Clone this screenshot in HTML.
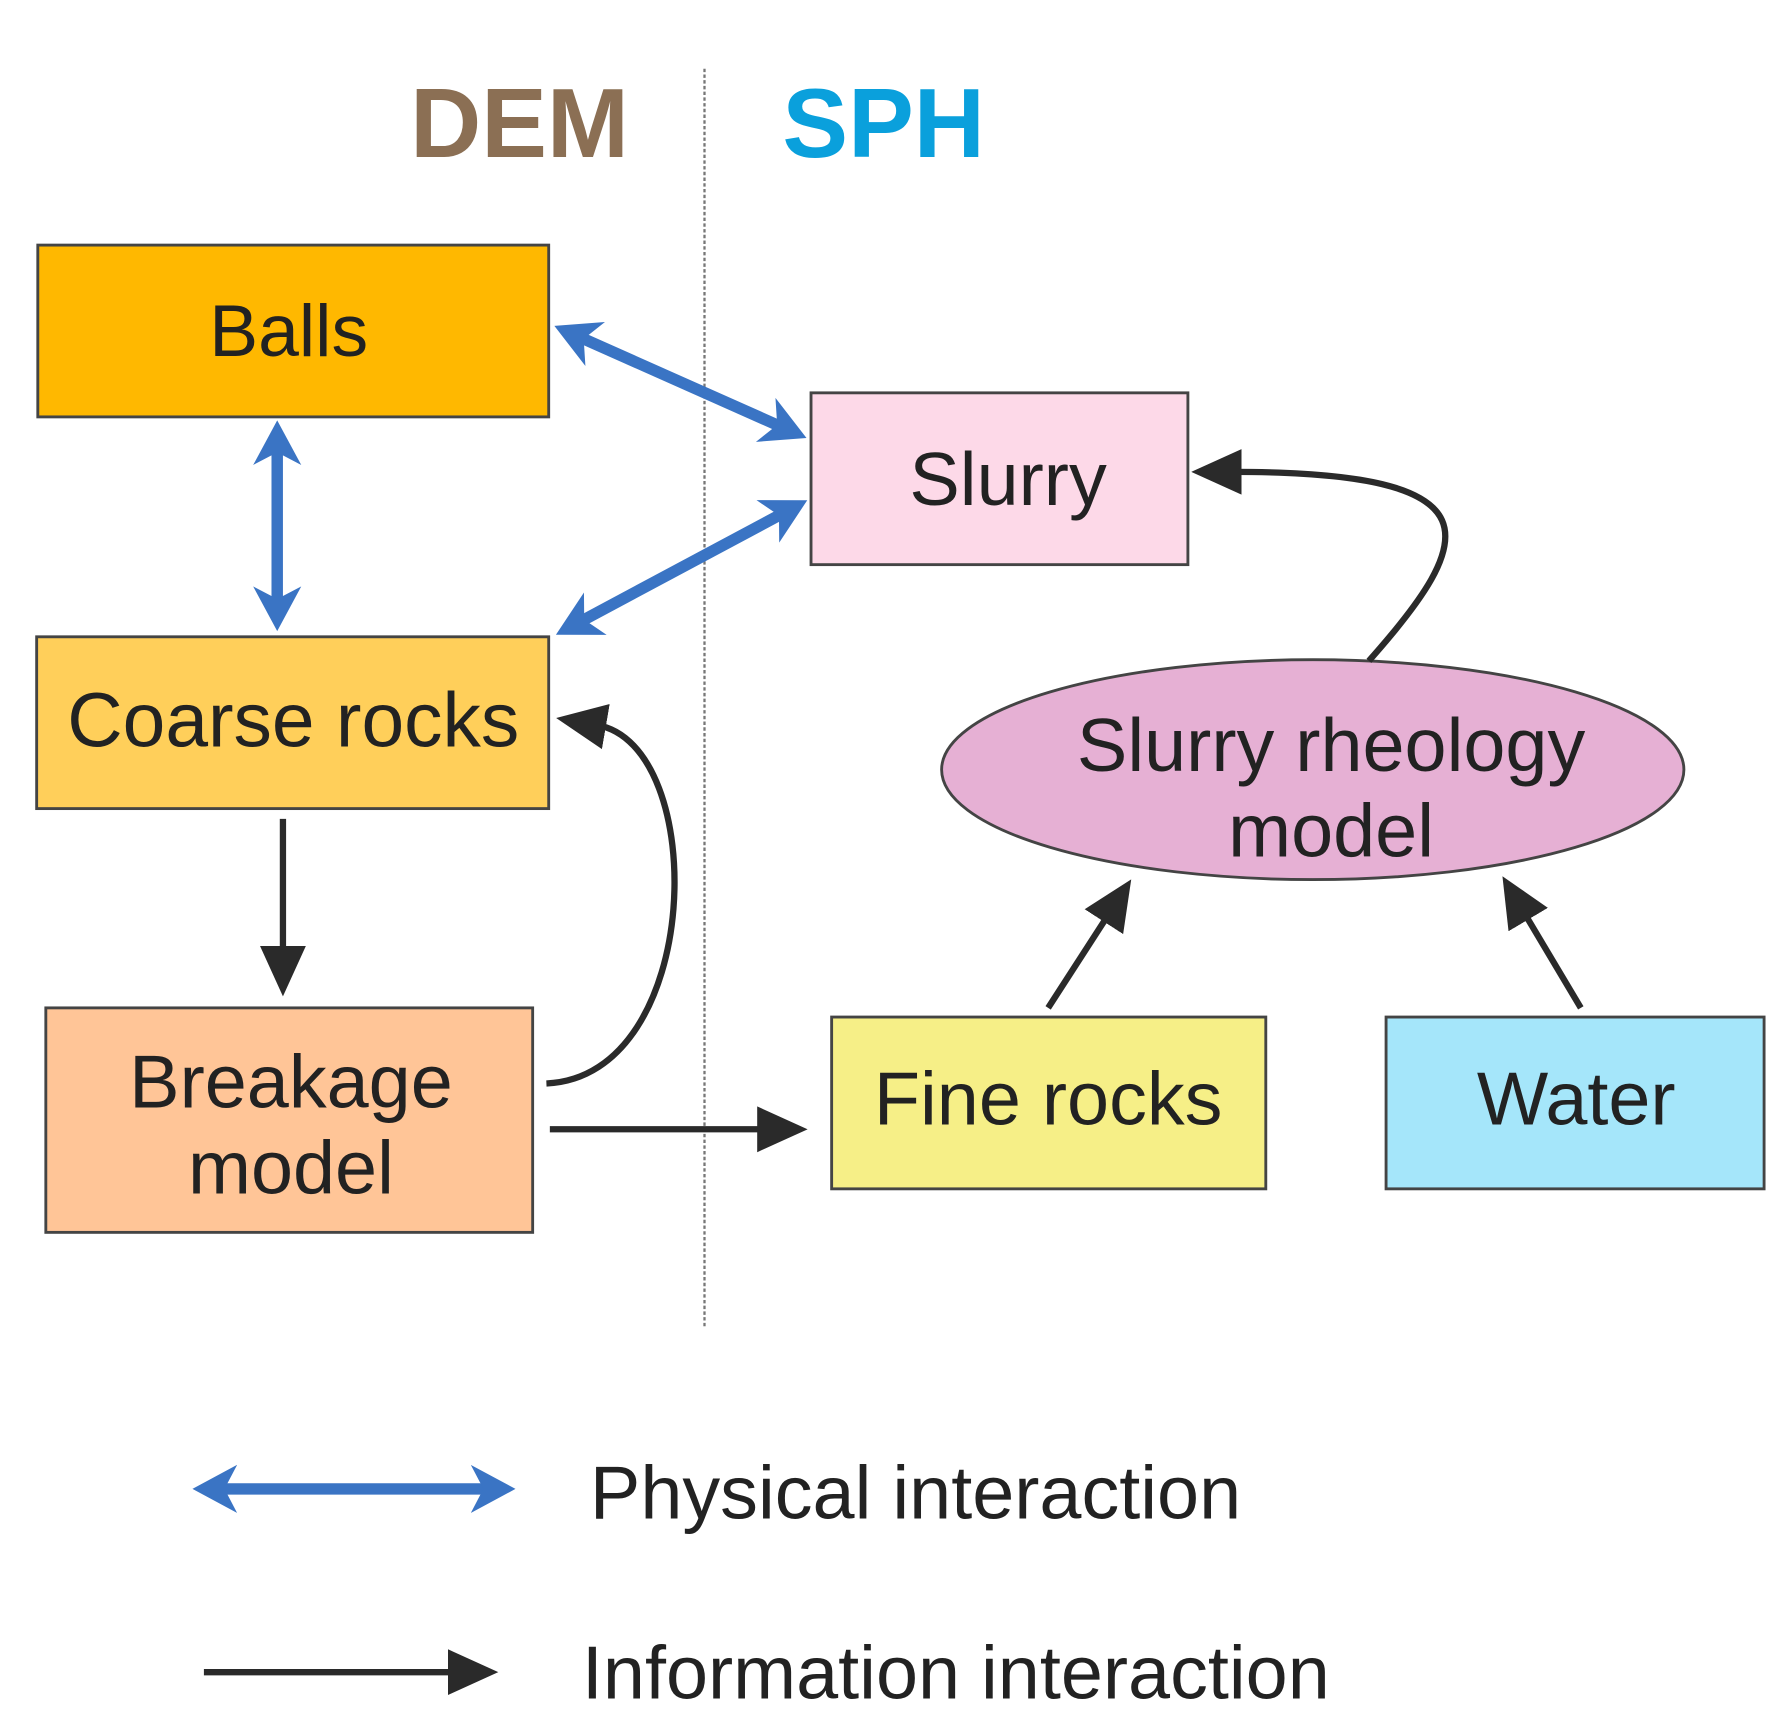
<!DOCTYPE html>
<html><head><meta charset="utf-8"><style>
html,body{margin:0;padding:0;background:#fff;}
svg{display:block;}
text{font-family:"Liberation Sans",Arial,sans-serif;}
</style></head><body>
<svg width="1787" height="1726" viewBox="0 0 1560 1507" preserveAspectRatio="none" xmlns="http://www.w3.org/2000/svg">
<defs>
<marker id="bh" markerWidth="40" markerHeight="46" refX="28" refY="23" orient="auto-start-reverse" markerUnits="userSpaceOnUse">
<path d="M0,2 L39,23 L0,44 L11,23 Z" fill="#3A74C4"/>
</marker>
<marker id="kh" markerWidth="44" markerHeight="44" refX="8" refY="22" orient="auto" markerUnits="userSpaceOnUse">
<path d="M0,2 L44,22 L0,42 Z" fill="#2a2a2a"/>
</marker>
</defs>
<rect width="1560" height="1507" fill="#fff"/>
<text x="358" y="137" font-size="86" font-weight="bold" fill="#8B6F54">DEM</text>
<text x="683" y="137" font-size="86" font-weight="bold" fill="#0AA0DC">SPH</text>
<line x1="615" y1="60" x2="615" y2="1160" stroke="#777" stroke-width="2" stroke-dasharray="3,2"/>

<rect x="33" y="214" width="446" height="150" fill="#FFB800" stroke="#444" stroke-width="2.5"/>
<text x="252" y="311" font-size="64" text-anchor="middle" fill="#222">Balls</text>
<rect x="708" y="343" width="329" height="150" fill="#FDD9E8" stroke="#444" stroke-width="2.5"/>
<text x="880" y="441" font-size="66" text-anchor="middle" fill="#222">Slurry</text>
<rect x="32" y="556" width="447" height="150" fill="#FFCF5A" stroke="#444" stroke-width="2.5"/>
<text x="256" y="652" font-size="67" text-anchor="middle" fill="#222">Coarse rocks</text>
<rect x="40" y="880" width="425" height="196" fill="#FFC597" stroke="#444" stroke-width="2.5"/>
<text x="254" y="967" font-size="66" text-anchor="middle" fill="#222">Breakage</text>
<text x="254" y="1042" font-size="66" text-anchor="middle" fill="#222">model</text>
<rect x="726" y="888" width="379" height="150" fill="#F6EF87" stroke="#444" stroke-width="2.5"/>
<text x="915" y="982" font-size="66" text-anchor="middle" fill="#222">Fine rocks</text>
<rect x="1210" y="888" width="330" height="150" fill="#A5E6FA" stroke="#444" stroke-width="2.5"/>
<text x="1376" y="982" font-size="66" text-anchor="middle" fill="#222">Water</text>
<ellipse cx="1146" cy="672" rx="324" ry="96" fill="#E6B0D4" stroke="#444" stroke-width="2.5"/>
<text x="1162" y="673" font-size="66" text-anchor="middle" fill="#222">Slurry rheology</text>
<text x="1162" y="748" font-size="66" text-anchor="middle" fill="#222">model</text>

<g stroke="#3A74C4" stroke-width="10" fill="none">
<line x1="494" y1="289" x2="694" y2="378" marker-start="url(#bh)" marker-end="url(#bh)"/>
<line x1="495" y1="549" x2="695" y2="442" marker-start="url(#bh)" marker-end="url(#bh)"/>
<line x1="242" y1="378" x2="242" y2="540" marker-start="url(#bh)" marker-end="url(#bh)"/>
<line x1="179" y1="1300" x2="439" y2="1300" marker-start="url(#bh)" marker-end="url(#bh)"/>
</g>
<g stroke="#2a2a2a" stroke-width="5.5" fill="none">
<line x1="247" y1="715" x2="247" y2="834" marker-end="url(#kh)"/>
<path d="M477,946 C615,940 620,650 521,633" marker-end="url(#kh)"/>
<line x1="480" y1="986" x2="669" y2="986" marker-end="url(#kh)"/>
<path d="M1195,577 C1290,470 1310,412 1076,412" marker-end="url(#kh)"/>
<line x1="915" y1="880" x2="968" y2="798" marker-end="url(#kh)"/>
<line x1="1380" y1="880" x2="1330" y2="796" marker-end="url(#kh)"/>
<line x1="178" y1="1460" x2="399" y2="1460" marker-end="url(#kh)"/>
</g>
<text x="515" y="1326" font-size="66" fill="#222">Physical interaction</text>
<text x="508" y="1483" font-size="66" fill="#222">Information interaction</text>
</svg>
</body></html>
